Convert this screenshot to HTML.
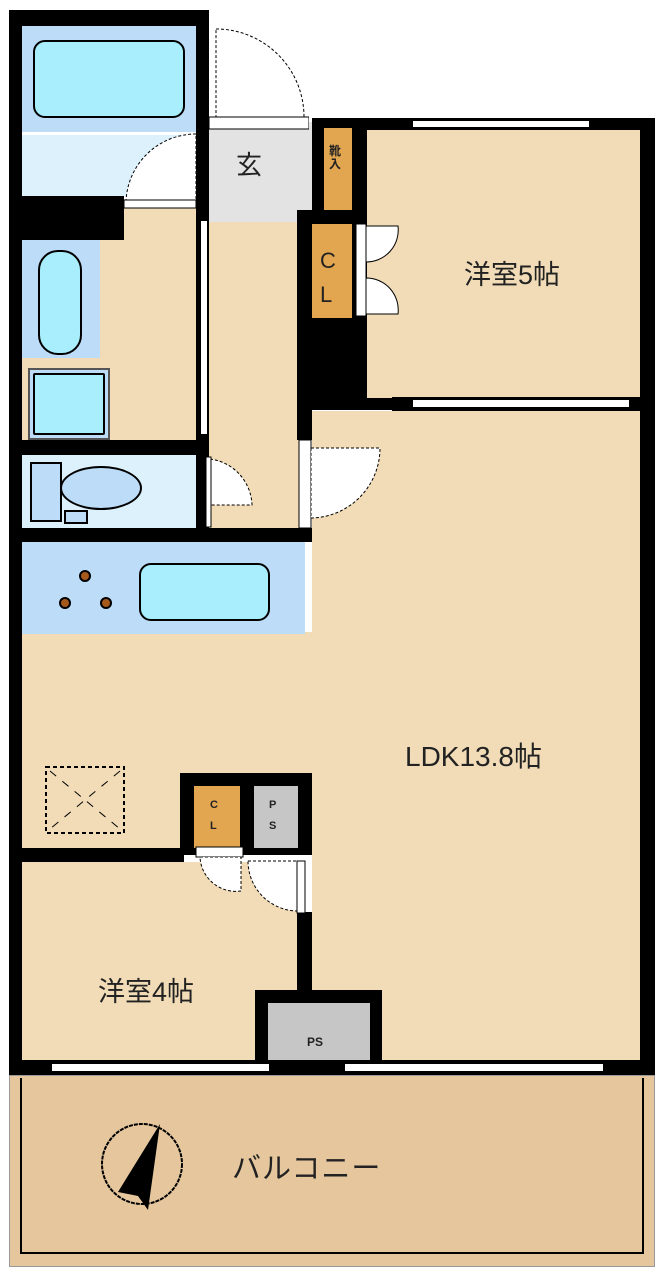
<!DOCTYPE html>
<html><head><meta charset="utf-8"><style>
body{margin:0;width:664px;height:1280px;background:#fff;position:relative;overflow:hidden;font-family:"Liberation Sans","Noto Sans CJK JP",sans-serif}
div{position:absolute;box-sizing:border-box}
.k{background:#000}.b{background:#f1dcb7}.lb{background:#dcf1fc}.bl{background:#bcdcf7}
.tub{background:#a8eefc;border:2px solid #000;border-radius:12px}
.o{background:#e2a650}.g{background:#c6c6c6}
.w{background:#fff;border-top:1px solid #000;border-bottom:1px solid #000}
.t{color:#222;white-space:nowrap}
svg{position:absolute}
</style></head><body>
<!-- outer walls -->
<div class="k" style="left:9px;top:10px;width:200px;height:16px"></div>
<div class="k" style="left:9px;top:10px;width:13px;height:1058px"></div>
<div class="k" style="left:196px;top:10px;width:13px;height:530px"></div>
<!-- bath -->
<div class="bl" style="left:22px;top:26px;width:174px;height:108px"></div>
<div class="tub" style="left:33px;top:40px;width:152px;height:78px"></div>
<div class="lb" style="left:22px;top:134px;width:174px;height:62px"></div>
<div style="left:22px;top:132px;width:174px;height:3px;background:#fff"></div>
<div class="k" style="left:9px;top:196px;width:115px;height:44px"></div>
<!-- washroom -->
<div class="b" style="left:22px;top:240px;width:174px;height:200px"></div>
<div class="b" style="left:124px;top:208px;width:72px;height:40px"></div>
<div class="bl" style="left:22px;top:240px;width:78px;height:118px"></div>
<div class="tub" style="left:38px;top:250px;width:44px;height:105px;border-radius:20px"></div>
<div class="bl" style="left:28px;top:368px;width:82px;height:72px;border:2px solid #555"></div>
<div class="tub" style="left:33px;top:373px;width:72px;height:62px;border-radius:2px"></div>
<div class="k" style="left:9px;top:440px;width:200px;height:15px"></div>
<!-- toilet -->
<div class="lb" style="left:22px;top:455px;width:174px;height:73px"></div>
<div class="bl" style="left:30px;top:462px;width:32px;height:60px;border:2px solid #000"></div>
<div class="bl" style="left:60px;top:466px;width:82px;height:44px;border:2px solid #000;border-radius:50%"></div>
<div class="bl" style="left:64px;top:510px;width:24px;height:14px;border:2px solid #000"></div>
<div class="k" style="left:9px;top:528px;width:303px;height:14px"></div>
<!-- hallway -->
<div style="left:209px;top:122px;width:103px;height:100px;background:#e3e3e3"></div>
<div class="t" style="left:236px;top:145px;font-size:26px">玄</div>
<div class="b" style="left:209px;top:222px;width:90px;height:306px"></div>
<div class="w" style="left:200px;top:220px;width:8px;height:215px;border:1px solid #000"></div>
<!-- central walls -->
<div class="k" style="left:312px;top:118px;width:56px;height:12px"></div>
<div class="k" style="left:312px;top:118px;width:12px;height:100px"></div>
<div class="k" style="left:352px;top:118px;width:15px;height:280px"></div>
<div class="o" style="left:324px;top:128px;width:28px;height:82px"></div>
<div class="t" style="left:329px;top:145px;font-size:12px;line-height:13px;font-weight:bold">靴<br>入</div>
<div class="k" style="left:297px;top:210px;width:55px;height:14px"></div>
<div class="k" style="left:297px;top:210px;width:15px;height:230px"></div>
<div class="o" style="left:312px;top:224px;width:40px;height:96px"></div>
<div class="t" style="left:320px;top:244px;font-size:22px;line-height:34px">C<br>L</div>
<div class="k" style="left:297px;top:318px;width:95px;height:92px"></div>
<!-- 洋室5 -->
<div class="b" style="left:367px;top:130px;width:273px;height:268px"></div>
<div class="b" style="left:392px;top:318px;width:248px;height:80px"></div>
<div class="k" style="left:367px;top:118px;width:288px;height:12px"></div>
<div class="w" style="left:413px;top:120px;width:176px;height:8px"></div>
<div class="t" style="left:464px;top:253px;font-size:27px">洋室5帖</div>
<div class="k" style="left:640px;top:118px;width:15px;height:950px"></div>
<div class="k" style="left:392px;top:397px;width:263px;height:14px"></div>
<div class="w" style="left:413px;top:399px;width:216px;height:9px"></div>
<!-- LDK -->
<div class="b" style="left:312px;top:411px;width:328px;height:652px"></div>
<div class="b" style="left:22px;top:632px;width:290px;height:216px"></div>
<!-- kitchen -->
<div class="bl" style="left:22px;top:542px;width:283px;height:92px"></div>
<div style="left:79px;top:570px;width:12px;height:12px;border-radius:50%;background:#a55a1c;border:2px solid #000"></div>
<div style="left:59px;top:597px;width:12px;height:12px;border-radius:50%;background:#a55a1c;border:2px solid #000"></div>
<div style="left:100px;top:597px;width:12px;height:12px;border-radius:50%;background:#a55a1c;border:2px solid #000"></div>
<div class="tub" style="left:139px;top:563px;width:131px;height:58px"></div>
<div class="t" style="left:405px;top:735px;font-size:28px">LDK13.8帖</div>
<svg style="left:44px;top:765px" width="82" height="70"><rect x="2" y="2" width="78" height="66" fill="none" stroke="#000" stroke-width="2" stroke-dasharray="4,3"/><path d="M6 6 L76 64 M76 6 L6 64" stroke="#000" stroke-dasharray="8,8"/></svg>
<!-- 洋室4 -->
<div class="b" style="left:22px;top:862px;width:275px;height:198px"></div>
<div class="k" style="left:9px;top:848px;width:175px;height:14px"></div>
<!-- closets -->
<div class="k" style="left:180px;top:773px;width:132px;height:82px"></div>
<div class="o" style="left:194px;top:786px;width:46px;height:62px"></div>
<div class="g" style="left:254px;top:786px;width:44px;height:62px"></div>
<div class="t" style="left:210px;top:795px;font-size:11px;line-height:21px;font-weight:bold">C<br>L</div>
<div class="t" style="left:269px;top:795px;font-size:11px;line-height:21px;font-weight:bold">P<br>S</div>
<div class="k" style="left:297px;top:912px;width:15px;height:80px"></div>
<div class="t" style="left:98px;top:970px;font-size:27px">洋室4帖</div>
<div class="k" style="left:255px;top:990px;width:127px;height:75px"></div>
<div class="g" style="left:268px;top:1003px;width:102px;height:58px"></div>
<div class="t" style="left:307px;top:1035px;font-size:12px;font-weight:bold">PS</div>
<!-- bottom wall -->
<div class="k" style="left:9px;top:1060px;width:646px;height:15px"></div>
<div class="w" style="left:52px;top:1063px;width:217px;height:9px"></div>
<div class="w" style="left:345px;top:1063px;width:258px;height:9px"></div>
<!-- balcony -->
<div style="left:9px;top:1075px;width:646px;height:192px;background:#e6c79d;border:1px solid #999"></div>
<div style="left:20px;top:1078px;width:624px;height:176px;border-left:2px solid #000;border-right:2px solid #000;border-bottom:2px solid #000"></div>
<svg style="left:100px;top:1120px" width="90" height="100"><ellipse cx="42" cy="44" rx="40" ry="40" fill="none" stroke="#000" stroke-width="2" stroke-dasharray="4,1"/><path d="M60 4 L48 90 L38 76 L18 72Z" fill="#000"/></svg>
<div class="t" style="left:232px;top:1145px;font-size:29px;letter-spacing:1px">バルコニー</div>
<!-- doors (on top) -->
<svg style="left:120px;top:132px" width="80" height="80"><path d="M6 70 A70 70 0 0 1 76 2 L76 70Z" fill="#fff" stroke="#000" stroke-dasharray="3,2"/><rect x="4" y="68" width="72" height="8" fill="#fff" stroke="#000"/></svg>
<svg style="left:209px;top:25px" width="100" height="105"><path d="M7 4 A88 88 0 0 1 95 92 L7 92Z" fill="#fff" stroke="#000" stroke-dasharray="3,2"/><rect x="0" y="92" width="100" height="12" fill="#fff" stroke="#000"/></svg>
<svg style="left:206px;top:455px" width="50" height="75"><path d="M4 4 A48 48 0 0 1 46 50 L4 50Z" fill="#fff" stroke="#000" stroke-dasharray="3,2"/><rect x="0" y="2" width="5" height="70" fill="#fff" stroke="#000"/></svg>
<svg style="left:352px;top:222px" width="52" height="96"><rect x="4" y="2" width="10" height="92" fill="#fff" stroke="#000"/><path d="M14 4 L46 4 A32 32 0 0 1 14 40Z M14 92 L46 92 A32 32 0 0 0 14 56Z" fill="#fff" stroke="#000"/></svg>
<svg style="left:297px;top:438px" width="90" height="92"><rect x="2" y="2" width="12" height="88" fill="#fff" stroke="#000"/><path d="M14 10 L83 10 A70 70 0 0 1 14 80Z" fill="#fff" stroke="#000" stroke-dasharray="3,2"/></svg>
<svg style="left:195px;top:846px" width="120" height="80"><rect x="1" y="1" width="47" height="10" fill="#fff" stroke="#000"/><path d="M5 11 L46 11 L46 45 A36 36 0 0 1 5 11Z" fill="#fff" stroke="#000" stroke-dasharray="3,2"/><path d="M53 15 L103 15 L103 65 A50 50 0 0 1 53 15Z" fill="#fff" stroke="#000" stroke-dasharray="3,2"/><rect x="102" y="15" width="8" height="52" fill="#fff" stroke="#000"/></svg>
</body></html>
